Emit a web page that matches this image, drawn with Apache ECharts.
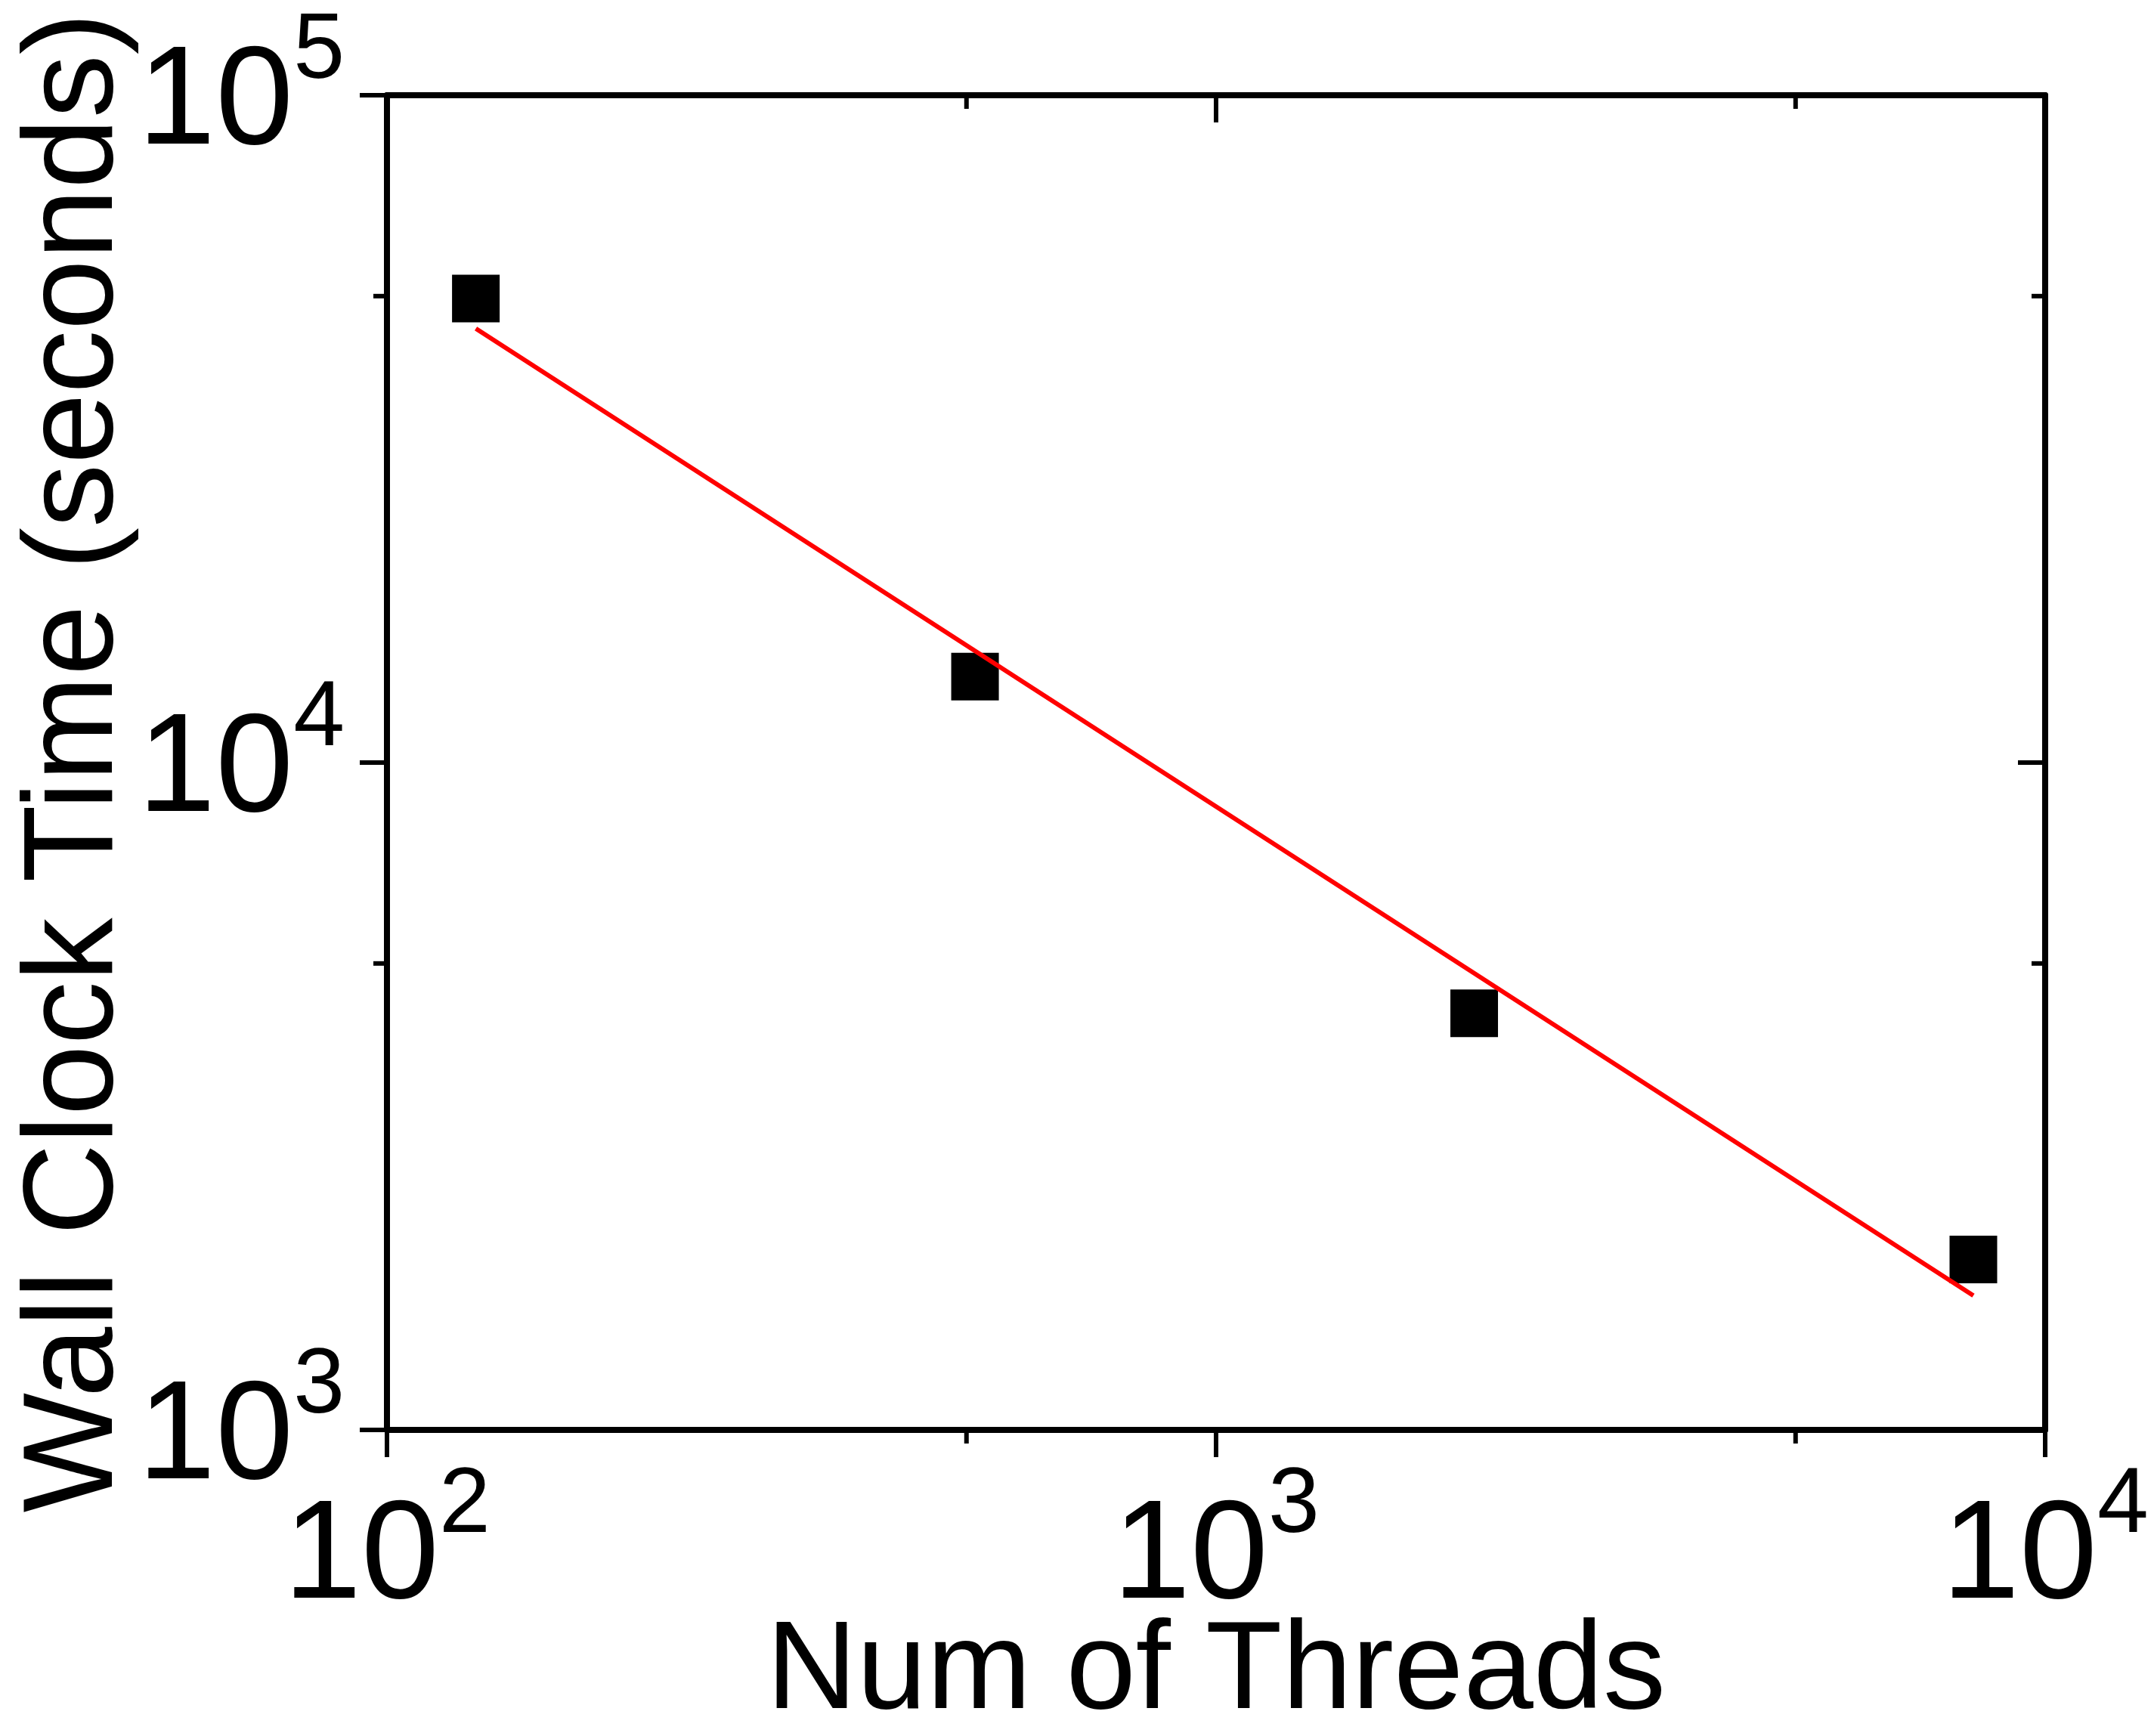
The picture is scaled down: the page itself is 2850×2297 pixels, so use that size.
<!DOCTYPE html>
<html>
<head>
<meta charset="utf-8">
<script src="https://cdn.jsdelivr.net/npm/echarts@6/dist/echarts.min.js"></script>
<style>
  html, body { margin: 0; padding: 0; background: #fff; }
  #chart { width: 2850px; height: 2297px; }
</style>
</head>
<body>
<div id="chart"></div>
<script>
// measured points
var threads = [128, 512, 2048, 8192];
var wallTime = [49600, 13450, 4210, 1800];
// red fit line, end points
var fitThreads = [128, 8192];
var fitTime = [44700, 1590];
// axis ranges / tick labels
var xRange = [100, 10000];
var yRange = [1000, 100000];
var xTickExp = { 100: '2', 1000: '3', 10000: '4' };
var yTickExp = { 1000: '3', 10000: '4', 100000: '5' };
var xMinorTicks = [500, 5000];
var yMinorTicks = [5000, 50000];

var FONT = "'Liberation Sans', Arial, sans-serif";
var myChart = echarts.init(document.getElementById('chart'));

function pairs(xs, ys) {
    return xs.map(function (x, i) { return [x, ys[i]]; });
}

// "10" + superscript exponent
var labelRich = {
    b: { fontSize: 185, fontFamily: FONT, color: '#000', padding: [38, 0, 12, 0] },
    s: { fontSize: 122, verticalAlign: 'top', fontFamily: FONT, color: '#000' }
};
var lineStyle = { color: '#000', width: 8 };
var tickStyle = { color: '#000', width: 6 };

function tickSeries(data, size, offset) {
    return {
        type: 'scatter',
        data: data,
        symbol: 'rect',
        symbolSize: size,
        symbolOffset: offset,
        itemStyle: { color: '#000', opacity: 1 },
        clip: false,
        silent: true,
        z: 5
    };
}

var option = {
    animation: false,
    backgroundColor: '#fff',
    grid: { left: 512, right: 144, top: 126, bottom: 405, outerBoundsMode: 'none' },
    xAxis: [{
        type: 'log',
        logBase: 10,
        min: xRange[0],
        max: xRange[1],
        name: 'Num of Threads',
        nameLocation: 'middle',
        nameGap: 239,
        nameMoveOverlap: false,
        nameTextStyle: { fontSize: 166, fontFamily: FONT, color: '#000' },
        axisLine: { lineStyle: lineStyle },
        axisTick: { length: 36, lineStyle: tickStyle },
        splitLine: { show: false },
        axisLabel: {
            margin: 40,
            formatter: function (v) { return '{b|10}{s|' + xTickExp[Math.round(v)] + '}'; },
            rich: labelRich
        }
    }, {
        type: 'log',
        logBase: 10,
        position: 'top',
        min: xRange[0],
        max: xRange[1],
        axisLine: { lineStyle: lineStyle },
        axisTick: { inside: true, length: 36, lineStyle: tickStyle },
        axisLabel: { show: false },
        splitLine: { show: false }
    }],
    yAxis: [{
        type: 'log',
        logBase: 10,
        min: yRange[0],
        max: yRange[1],
        name: 'Wall Clock Time (seconds)',
        nameLocation: 'middle',
        nameGap: 326,
        nameMoveOverlap: false,
        nameTextStyle: { fontSize: 168, fontFamily: FONT, color: '#000' },
        axisLine: { lineStyle: lineStyle },
        axisTick: { length: 36, lineStyle: tickStyle },
        splitLine: { show: false },
        axisLabel: {
            margin: 56,
            formatter: function (v) { return '{b|10}{s|' + yTickExp[Math.round(v)] + '}'; },
            rich: labelRich
        }
    }, {
        type: 'log',
        logBase: 10,
        position: 'right',
        min: yRange[0],
        max: yRange[1],
        axisLine: { lineStyle: lineStyle },
        axisTick: { inside: true, length: 36, lineStyle: tickStyle },
        axisLabel: { show: false },
        splitLine: { show: false }
    }],
    series: [
        {
            name: 'data',
            type: 'scatter',
            data: pairs(threads, wallTime),
            symbol: 'rect',
            symbolSize: 63,
            itemStyle: { color: '#000', opacity: 1 },
            z: 3
        },
        {
            name: 'fit',
            type: 'line',
            data: pairs(fitThreads, fitTime),
            showSymbol: false,
            symbol: 'none',
            lineStyle: { color: '#ff0000', width: 6 },
            z: 4
        },
        // minor ticks at 5x10^n, outward on bottom/left, inward on top/right
        tickSeries(xMinorTicks.map(function (x) { return [x, yRange[0]]; }), [6, 18], [0, 9]),
        tickSeries(xMinorTicks.map(function (x) { return [x, yRange[1]]; }), [6, 18], [0, 9]),
        tickSeries(yMinorTicks.map(function (y) { return [xRange[0], y]; }), [18, 6], [-9, 0]),
        tickSeries(yMinorTicks.map(function (y) { return [xRange[1], y]; }), [18, 6], [-9, 0])
    ]
};

myChart.setOption(option);
</script>
</body>
</html>
